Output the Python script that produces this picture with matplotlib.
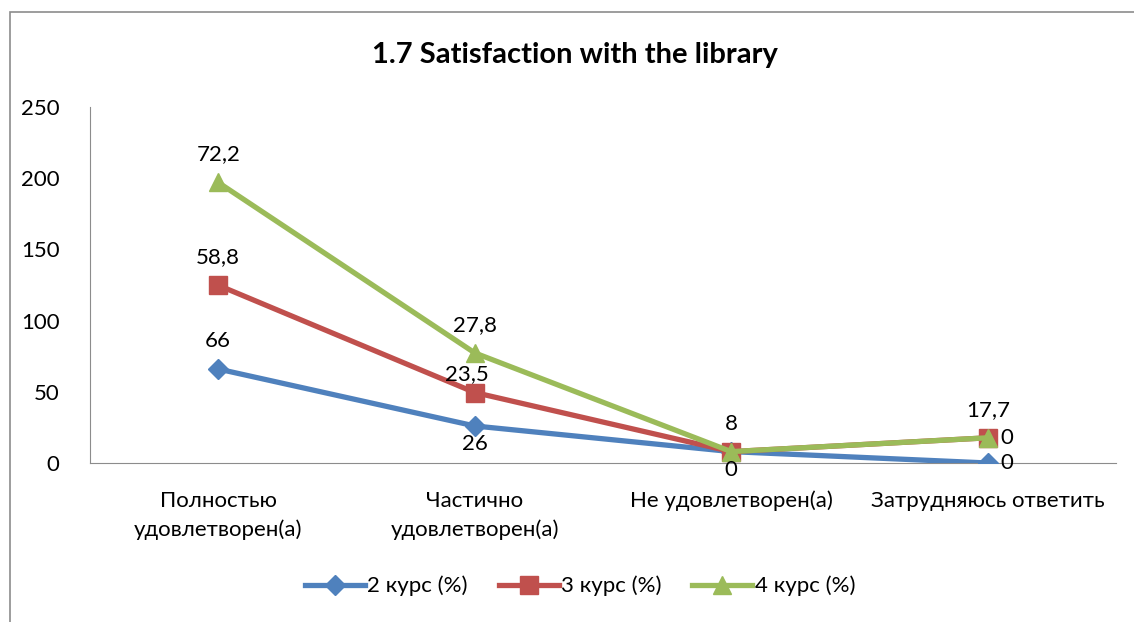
import numpy as np
import matplotlib.pyplot as plt
from matplotlib.patches import Rectangle

# ------ данные ----------
categories = ['Полностью\nудовлетворен(а)', 'Частично\nудовлетворен(а)',
              'Не удовлетворен(а)', 'Затрудняюсь ответить']
kurs2 = [66, 26, 8, 0]
kurs3 = [58.8, 23.5, 0, 17.7]
kurs4 = [72.2, 27.8, 0, 0]
series_names = ['2 курс (%)', '3 курс (%)', '4 курс (%)']
y_ticks = [0, 50, 100, 150, 200, 250]

# где подписи: 'a' сверху, 'b' снизу, 'r' справа, 'n' близко сверху, None - нет
label_pos = [
    ['a', 'b', 'a', 'r'],
    ['a', 'n', 'b', 'a'],
    ['a', 'a', None, 'r'],
]

colors = ['#4F81BD', '#C0504D', '#9BBB59']
markers = ['D', 's', '^']
msizes = [10, 13, 13]
fs = 16

plt.rcParams['font.family'] = ['Lato', 'DejaVu Sans']

fig = plt.figure(figsize=(11.34, 6.22), dpi=100)
fig.patches.append(Rectangle((10 / 1134, -0.1), 1.2, 1.1 - 12 / 622, transform=fig.transFigure,
                             fill=False, edgecolor='#8c8c8c', linewidth=1.2))
ax = fig.add_axes([90 / 1134, 1 - 463 / 622, (1116 - 90) / 1134, (463 - 107) / 622])

x = np.arange(len(categories))
data = [np.array(kurs2), np.array(kurs3), np.array(kurs4)]
stacked = np.cumsum(data, axis=0)

for i in range(3):
    ax.plot(x, stacked[i], color=colors[i], linewidth=3.8, marker=markers[i],
            markersize=msizes[i], label=series_names[i], zorder=3 + i)
    for j in range(len(x)):
        pos = label_pos[i][j]
        if pos is None:
            continue
        txt = ('%g' % data[i][j]).replace('.', ',')
        if pos == 'a':
            ax.annotate(txt, (x[j], stacked[i][j]), xytext=(0, 13), textcoords='offset points',
                        ha='center', va='bottom', fontsize=fs, zorder=10)
        elif pos == 'n':
            ax.annotate(txt, (x[j], stacked[i][j]), xytext=(-6, 6), textcoords='offset points',
                        ha='center', va='bottom', fontsize=fs, zorder=10)
        elif pos == 'b':
            ax.annotate(txt, (x[j], stacked[i][j]), xytext=(0, -6), textcoords='offset points',
                        ha='center', va='top', fontsize=fs, zorder=10)
        else:
            ax.annotate(txt, (x[j], stacked[i][j]), xytext=(9, 0), textcoords='offset points',
                        ha='left', va='center', fontsize=fs, zorder=10)

ax.set_xlim(-0.5, 3.5)
ax.set_ylim(0, 250)
ax.set_yticks(y_ticks)
ax.set_yticklabels([str(t) for t in y_ticks], fontsize=fs)
ax.set_xticks(x)
ax.set_xticklabels(categories, fontsize=fs, linespacing=1.5)
ax.tick_params(axis='y', length=0, pad=22)
ax.tick_params(axis='x', length=0, pad=20)
for s in ['top', 'right']:
    ax.spines[s].set_visible(False)
ax.spines['left'].set_color('#8c8c8c')
ax.spines['bottom'].set_color('#8c8c8c')

fig.text(575 / 1134, 1 - 55 / 622, '1.7 Satisfaction with the library', ha='center', va='center',
         fontsize=21, fontweight='bold')

fig.legend(loc='center', bbox_to_anchor=(580 / 1134, 1 - 586 / 622), ncol=3, frameon=False,
           fontsize=fs, handlelength=2.7, columnspacing=1.4, handletextpad=0.1)

plt.savefig('out.png', dpi=100)
